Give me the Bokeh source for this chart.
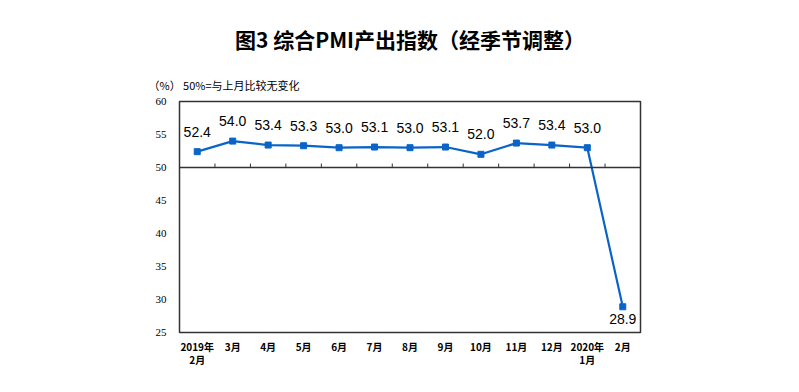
from bokeh.plotting import figure
from bokeh.models import Range1d, FixedTicker, Span, Title, ColumnDataSource
from bokeh.core.properties import value
from bokeh.embed import file_html
from bokeh.resources import INLINE

months = ["2019年\n2月", "3月", "4月", "5月", "6月", "7月", "8月", "9月", "10月",
          "11月", "12月", "2020年\n1月", "2月"]
pmi = [52.4, 54.0, 53.4, 53.3, 53.0, 53.1, 53.0, 53.1, 52.0, 53.7, 53.4, 53.0, 28.9]
y_ticks = [25, 30, 35, 40, 45, 50, 55, 60]
baseline = 50

n = len(months)
xs = [i + 0.5 for i in range(n)]
labels = [f"{v:.1f}" for v in pmi]

p = figure(width=790, height=384, output_backend="svg", toolbar_location=None,
           x_range=Range1d(0, n), y_range=Range1d(25, 60),
           min_border_left=179, min_border_right=150, min_border_top=101, min_border_bottom=52)

p.title.text = "图3 综合PMI产出指数（经季节调整）"
p.title.align = "center"
p.title.offset = -8
p.title.standoff = 24
p.title.text_font = "Noto Sans CJK SC"
p.title.text_font_size = "21px"
p.title.text_font_style = "bold"
p.title.text_color = "black"

p.add_layout(Title(text="（%）   50%=与上月比较无变化", align="left", offset=-31, standoff=18,
                   text_font="Noto Sans CJK SC", text_font_style="normal",
                   text_font_size="11px", text_color="black"), "above")

p.outline_line_color = "#333333"
p.outline_line_width = 1.5
p.xgrid.visible = False
p.ygrid.visible = False
p.background_fill_color = "white"
p.border_fill_color = "white"

# y axis
p.yaxis.ticker = FixedTicker(ticks=y_ticks)
p.yaxis.major_tick_line_color = None
p.yaxis.major_tick_out = 0
p.yaxis.major_tick_in = 0
p.yaxis.minor_tick_line_color = None
p.yaxis.axis_line_color = None
p.yaxis.major_label_standoff = 13
p.yaxis.major_label_text_font = "Liberation Serif"
p.yaxis.major_label_text_font_size = "11px"
p.yaxis.major_label_text_color = "black"

# x axis
p.xaxis.ticker = FixedTicker(ticks=xs)
p.xaxis.major_label_overrides = {x: m for x, m in zip(xs, months)}
p.xaxis.major_tick_line_color = None
p.xaxis.major_tick_out = 0
p.xaxis.major_tick_in = 0
p.xaxis.minor_tick_line_color = None
p.xaxis.axis_line_color = None
p.xaxis.major_label_standoff = 6
p.xaxis.major_label_text_font = "Noto Sans CJK SC"
p.xaxis.major_label_text_font_size = "10px"
p.xaxis.major_label_text_font_style = "bold"
p.xaxis.major_label_text_line_height = 0.9
p.xaxis.major_label_text_color = "black"

# 50 line with boundary ticks
p.add_layout(Span(location=baseline, dimension="width", line_color="#333333", line_width=1.5))
bounds = list(range(1, n))
p.segment(x0=bounds, y0=[baseline] * len(bounds), x1=bounds, y1=[baseline + 0.6] * len(bounds),
          line_color="#333333", line_width=1)

src = ColumnDataSource(dict(x=xs, y=pmi, t=labels))
p.line("x", "y", source=src, line_color="#0a64c8", line_width=2.2)
p.scatter("x", "y", source=src, marker="square", size=6, color="#0a64c8")

top = ColumnDataSource(dict(x=xs[:-1], y=pmi[:-1], t=labels[:-1]))
p.text("x", "y", text="t", source=top, text_align="center", text_baseline="alphabetic",
       y_offset=-20, text_font=value("Liberation Sans"), text_font_size="14px", text_color="black")
bot = ColumnDataSource(dict(x=xs[-1:], y=pmi[-1:], t=labels[-1:]))
p.text("x", "y", text="t", source=bot, text_align="center", text_baseline="top",
       y_offset=7, text_font=value("Liberation Sans"), text_font_size="14px", text_color="black")

open("out.html", "w").write(file_html(p, INLINE))
